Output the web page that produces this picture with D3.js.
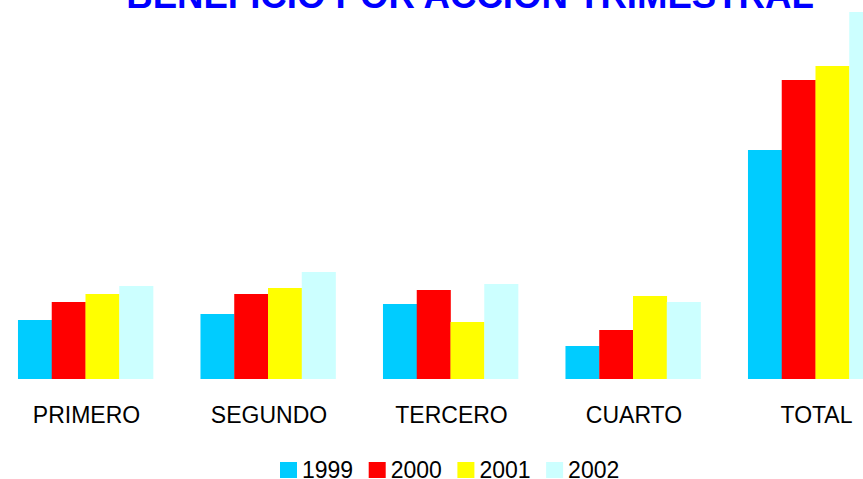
<!doctype html>
<html>
<head>
<meta charset="utf-8">
<script src="https://d3js.org/d3.v7.min.js"></script>
<style>
  body { margin: 0; background: #fff; }
  svg { display: block; font-family: "Liberation Sans", Arial, sans-serif; }
</style>
</head>
<body>
<svg id="chart" width="863" height="479"></svg>
<script>
// data
var categories = ["PRIMERO", "SEGUNDO", "TERCERO", "CUARTO", "TOTAL"];
var years = ["1999", "2000", "2001", "2002"];
var v1999 = [0.59, 0.65, 0.75, 0.33, 2.29];
var v2000 = [0.77, 0.85, 0.89, 0.49, 2.99];
var v2001 = [0.85, 0.91, 0.57, 0.83, 3.13];
var v2002 = [0.93, 1.07, 0.95, 0.77, 3.67];
var colors = ["#00ccff", "#ff0000", "#ffff00", "#ccffff"];

var series = [v1999, v2000, v2001, v2002];

var svg = d3.select("#chart");

var x = d3.scaleBand().domain(categories).range([-5.75, 906.75])
    .paddingInner(0.26).paddingOuter(0.13);
var xs = d3.scaleBand().domain(years).range([0, x.bandwidth()]);
var y = d3.scaleLinear().domain([0, 3.79]).range([379, 0]);

// title (top is cut off in the original)
svg.append("text")
    .attr("x", 470).attr("y", 8)
    .attr("text-anchor", "middle")
    .attr("font-size", "36.6px")
    .attr("font-weight", "bold")
    .attr("fill", "#0000ff")
    .text("BENEFICIO POR ACCION TRIMESTRAL");

// bars
var groups = svg.append("g").selectAll("g")
    .data(categories).enter().append("g")
    .attr("transform", function(d) { return "translate(" + x(d) + ",0)"; });

groups.selectAll("rect")
    .data(function(d, i) {
        return years.map(function(yr, j) { return { year: yr, value: series[j][i], k: j }; });
    })
    .enter().append("rect")
    .attr("x", function(d) { return xs(d.year); })
    .attr("y", function(d) { return y(d.value); })
    .attr("width", xs.bandwidth() + 0.3)
    .attr("height", function(d) { return y(0) - y(d.value); })
    .attr("fill", function(d) { return colors[d.k]; });

// category labels
svg.append("g").selectAll("text")
    .data(categories).enter().append("text")
    .attr("x", function(d) { return x(d) + x.bandwidth() / 2 + 1; })
    .attr("y", 423)
    .attr("text-anchor", "middle")
    .attr("font-size", "23px")
    .attr("fill", "#000")
    .text(function(d) { return d; });

// legend
var legend = svg.append("g").selectAll("g")
    .data(years).enter().append("g")
    .attr("transform", function(d, i) { return "translate(" + (280 + i * 88.7) + ",462)"; });

legend.append("rect")
    .attr("width", 17).attr("height", 16)
    .attr("fill", function(d, i) { return colors[i]; });

legend.append("text")
    .attr("x", 22).attr("y", 16)
    .attr("font-size", "23px")
    .attr("fill", "#000")
    .text(function(d) { return d; });
</script>
</body>
</html>
